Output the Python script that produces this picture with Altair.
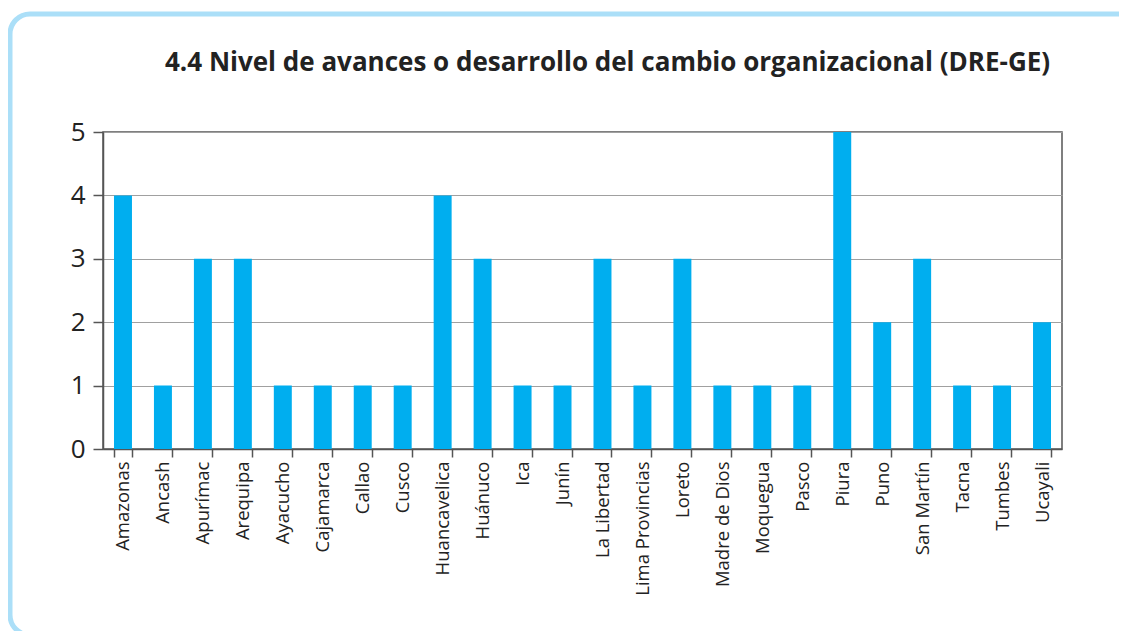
import altair as alt
import pandas as pd

regions = ["Amazonas", "Ancash", "Apurímac", "Arequipa", "Ayacucho", "Cajamarca",
           "Callao", "Cusco", "Huancavelica", "Huánuco", "Ica", "Junín",
           "La Libertad", "Lima Provincias", "Loreto", "Madre de Dios", "Moquegua",
           "Pasco", "Piura", "Puno", "San Martín", "Tacna", "Tumbes", "Ucayali"]
values = [4, 1, 3, 3, 1, 1, 1, 1, 4, 3, 1, 1, 3, 1, 3, 1, 1, 1, 5, 2, 3, 1, 1, 2]
y_ticks = [0, 1, 2, 3, 4, 5]
title_text = "4.4 Nivel de avances o desarrollo del cambio organizacional (DRE-GE)"

df = pd.DataFrame({"region": regions, "valor": values})

FONT = "Open Sans"

bars = alt.Chart(df).mark_bar(color="#00AEEF").encode(
    x=alt.X("region:N", sort=regions, title=None,
            scale=alt.Scale(paddingInner=0.55, paddingOuter=0.275),
            axis=alt.Axis(labelAngle=-90, tickBand="extent", tickSize=8,
                          labelFontSize=18.5, labelColor="#222", labelFont=FONT,
                          labelPadding=4, domainColor="#555", domainWidth=1.5,
                          tickColor="#555", tickWidth=1.5, grid=False)),
    y=alt.Y("valor:Q", title=None,
            scale=alt.Scale(domain=[0, 5], nice=False),
            axis=alt.Axis(values=y_ticks, tickSize=10, labelFontSize=26,
                          labelColor="#222", labelFont=FONT, labelPadding=8,
                          domainColor="#555", domainWidth=1.5, tickColor="#555",
                          tickWidth=1.5, gridColor="#a0a0a0", gridWidth=1)),
)

meta = pd.DataFrame({"t": [title_text]})

frame = alt.Chart(meta).mark_rect(
    fill=None, fillOpacity=0, stroke="#ABDFF8", strokeWidth=5, cornerRadius=20
).encode(
    x=alt.value(-93), x2=alt.value(1100),
    y=alt.value(-118), y2=alt.value(503),
)

title = alt.Chart(meta).mark_text(
    align="left", baseline="alphabetic", fontSize=26, fontWeight="bold",
    font=FONT, color="#222"
).encode(text="t:N", x=alt.value(62), y=alt.value(-61))

chart = alt.layer(frame, title, bars).properties(
    width=959, height=317,
    padding={"left": 95, "top": 124, "right": 57, "bottom": 182},
    autosize="none",
).configure_view(stroke="#555", strokeWidth=1.5)

chart.save("out.html", embed_options={"renderer": "svg", "actions": False})
